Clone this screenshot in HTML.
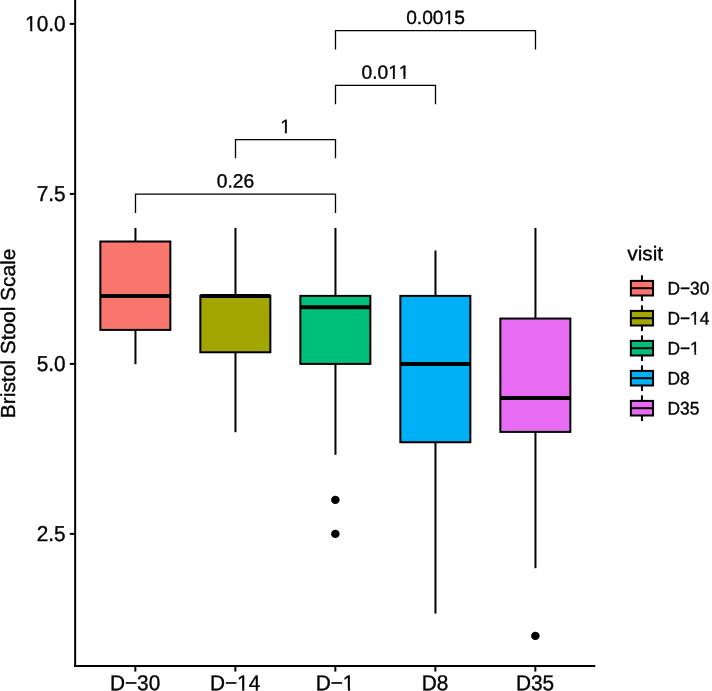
<!DOCTYPE html>
<html>
<head>
<meta charset="utf-8">
<title>Bristol Stool Scale by visit</title>
<style>
html,body{margin:0;padding:0;background:#fff;}
body{width:712px;height:691px;overflow:hidden;}
svg{display:block;will-change:transform;}
text{font-family:"Liberation Sans",sans-serif;fill:#000;stroke:#000;stroke-width:0.35px;text-rendering:geometricPrecision;font-kerning:none;}
.ax{font-size:20.8px;}
.lg{font-size:17.4px;}
.pv{font-size:19.2px;}
.yt{font-size:20.3px;}
.bx{stroke:#000;stroke-width:2;}
.wh{stroke:#000;stroke-width:2;fill:none;}
.md{stroke:#000;stroke-width:4;fill:none;}
.br{stroke:#000;stroke-width:1.3;fill:none;}
</style>
</head>
<body>
<svg width="712" height="691" viewBox="0 0 712 691">
<rect x="0" y="0" width="712" height="691" fill="#fff"/>
<g class="wh">
<line x1="135.47" y1="227.9" x2="135.47" y2="241.5"/>
<line x1="135.47" y1="329.9" x2="135.47" y2="364.2"/>
<line x1="235.47" y1="227.9" x2="235.47" y2="295.9"/>
<line x1="235.47" y1="352.27" x2="235.47" y2="432.2"/>
<line x1="335.47" y1="227.9" x2="335.47" y2="295.9"/>
<line x1="335.47" y1="363.9" x2="335.47" y2="454.84"/>
<line x1="435.47" y1="250.54" x2="435.47" y2="295.9"/>
<line x1="435.47" y1="442.24" x2="435.47" y2="613.56"/>
<line x1="535.47" y1="227.9" x2="535.47" y2="318.54"/>
<line x1="535.47" y1="431.9" x2="535.47" y2="568.2"/>
</g>
<g class="bx">
<rect x="100.35" y="241.5" width="70.0" height="88.4" fill="#F8766D"/>
<rect x="200.35" y="295.9" width="70.0" height="56.37" fill="#A3A500"/>
<rect x="300.35" y="295.9" width="70.0" height="68.0" fill="#00BF7D"/>
<rect x="400.35" y="295.9" width="70.0" height="146.34" fill="#00B0F6"/>
<rect x="500.35" y="318.54" width="70.0" height="113.36" fill="#E76BF3"/>
</g>
<g class="md">
<line x1="100.35" y1="295.9" x2="170.35" y2="295.9"/>
<line x1="200.35" y1="295.9" x2="270.35" y2="295.9"/>
<line x1="300.35" y1="307.26" x2="370.35" y2="307.26"/>
<line x1="400.35" y1="363.9" x2="470.35" y2="363.9"/>
<line x1="500.35" y1="397.9" x2="570.35" y2="397.9"/>
</g>
<ellipse cx="335.35" cy="499.9" rx="4.3" ry="4.15" fill="#000"/>
<ellipse cx="335.35" cy="533.9" rx="4.3" ry="4.15" fill="#000"/>
<ellipse cx="535.35" cy="635.9" rx="4.3" ry="4.15" fill="#000"/>
<g class="br">
<path d="M135.5 212.9 V194.15 H335.5 V212.9"/>
<path d="M235.5 158.3 V139.55 H335.5 V158.3"/>
<path d="M335.5 104.15 V85.4 H435.5 V104.15"/>
<path d="M335.5 49.4 V30.65 H535.5 V49.4"/>
</g>
<text class="pv" text-anchor="middle" transform="translate(235.50000000000003 187.5) rotate(0.03)">0.26</text>
<text class="pv" text-anchor="middle" transform="translate(285.5 132.9) rotate(0.03)">1</text>
<g fill="#fff" transform="translate(285.5 132.9) rotate(0.03)"><rect x="-5.18" y="-2.43" width="4.50" height="3.73"/><rect x="1.36" y="-2.43" width="4.25" height="3.73"/></g>
<text class="pv" text-anchor="middle" transform="translate(385.5 78.75) rotate(0.03)">0.011</text>
<g fill="#fff" transform="translate(385.5 78.75) rotate(0.03)"><rect x="2.83" y="-2.43" width="4.50" height="3.73"/><rect x="9.36" y="-2.43" width="4.25" height="3.73"/><rect x="13.51" y="-2.43" width="4.50" height="3.73"/><rect x="20.04" y="-2.43" width="4.25" height="3.73"/></g>
<text class="pv" text-anchor="middle" transform="translate(435.5 24.0) rotate(0.03)">0.0015</text>
<g fill="#fff" transform="translate(435.5 24.0) rotate(0.03)"><rect x="8.17" y="-2.43" width="4.50" height="3.73"/><rect x="14.70" y="-2.43" width="4.25" height="3.73"/></g>
<line x1="75.15" y1="0" x2="75.15" y2="667" stroke="#000" stroke-width="2"/>
<line x1="74.15" y1="666" x2="595.25" y2="666" stroke="#000" stroke-width="2"/>
<g stroke="#000" stroke-width="2">
<line x1="69.8" y1="23.9" x2="74.5" y2="23.9"/>
<line x1="69.8" y1="193.9" x2="74.5" y2="193.9"/>
<line x1="69.8" y1="363.9" x2="74.5" y2="363.9"/>
<line x1="69.8" y1="533.9" x2="74.5" y2="533.9"/>
<line x1="135.35" y1="666.5" x2="135.35" y2="671.6"/>
<line x1="235.35" y1="666.5" x2="235.35" y2="671.6"/>
<line x1="335.35" y1="666.5" x2="335.35" y2="671.6"/>
<line x1="435.35" y1="666.5" x2="435.35" y2="671.6"/>
<line x1="535.35" y1="666.5" x2="535.35" y2="671.6"/>
</g>
<text class="ax" text-anchor="end" transform="translate(65.6 30.95) rotate(0.03) scale(1.0 1.03)">10.0</text>
<g fill="#fff" transform="translate(65.6 30.95) rotate(0.03) scale(1.0 1.03)"><rect x="-40.20" y="-2.55" width="4.78" height="3.85"/><rect x="-33.24" y="-2.55" width="4.51" height="3.85"/></g>
<text class="ax" text-anchor="end" transform="translate(65.6 200.95) rotate(0.03) scale(1.0 1.03)">7.5</text>
<text class="ax" text-anchor="end" transform="translate(65.6 370.95) rotate(0.03) scale(1.0 1.03)">5.0</text>
<text class="ax" text-anchor="end" transform="translate(65.6 540.95) rotate(0.03) scale(1.0 1.03)">2.5</text>
<text class="ax" text-anchor="middle" transform="translate(135.04999999999998 690.2) rotate(0.03) scale(1.0 1.04)">D−30</text>
<text class="ax" text-anchor="middle" transform="translate(235.04999999999998 690.2) rotate(0.03) scale(1.0 1.04)">D−14</text>
<g fill="#fff" transform="translate(235.04999999999998 690.2) rotate(0.03) scale(1.0 1.04)"><rect x="2.30" y="-2.55" width="4.78" height="3.85"/><rect x="9.25" y="-2.55" width="4.51" height="3.85"/></g>
<text class="ax" text-anchor="middle" transform="translate(335.05 690.2) rotate(0.03) scale(1.0 1.04)">D−1</text>
<g fill="#fff" transform="translate(335.05 690.2) rotate(0.03) scale(1.0 1.04)"><rect x="8.08" y="-2.55" width="4.78" height="3.85"/><rect x="15.04" y="-2.55" width="4.51" height="3.85"/></g>
<text class="ax" text-anchor="middle" transform="translate(435.05 690.2) rotate(0.03) scale(1.0 1.04)">D8</text>
<text class="ax" text-anchor="middle" transform="translate(535.0500000000001 690.2) rotate(0.03) scale(1.0 1.04)">D35</text>
<text class="yt" text-anchor="middle" transform="translate(15.2 333.4) rotate(-90) scale(1.03 1.0)">Bristol Stool Scale</text>
<text class="ax" text-anchor="start" transform="translate(627.3 260.3) rotate(0.03) scale(1.0 0.96)">visit</text>
<line class="wh" x1="641.95" y1="275.35" x2="641.95" y2="301.05"/>
<rect class="bx" x="630.85" y="280.9" width="22.2" height="14.6" fill="#F8766D"/>
<line x1="630.85" y1="288.2" x2="653.05" y2="288.2" stroke="#000" stroke-width="2"/>
<line class="wh" x1="641.95" y1="305.35" x2="641.95" y2="331.05"/>
<rect class="bx" x="630.85" y="310.9" width="22.2" height="14.6" fill="#A3A500"/>
<line x1="630.85" y1="318.2" x2="653.05" y2="318.2" stroke="#000" stroke-width="2"/>
<line class="wh" x1="641.95" y1="335.35" x2="641.95" y2="361.05"/>
<rect class="bx" x="630.85" y="340.9" width="22.2" height="14.6" fill="#00BF7D"/>
<line x1="630.85" y1="348.2" x2="653.05" y2="348.2" stroke="#000" stroke-width="2"/>
<line class="wh" x1="641.95" y1="365.35" x2="641.95" y2="391.05"/>
<rect class="bx" x="630.85" y="370.9" width="22.2" height="14.6" fill="#00B0F6"/>
<line x1="630.85" y1="378.2" x2="653.05" y2="378.2" stroke="#000" stroke-width="2"/>
<line class="wh" x1="641.95" y1="395.35" x2="641.95" y2="421.05"/>
<rect class="bx" x="630.85" y="400.9" width="22.2" height="14.6" fill="#E76BF3"/>
<line x1="630.85" y1="408.2" x2="653.05" y2="408.2" stroke="#000" stroke-width="2"/>
<text class="lg" text-anchor="start" transform="translate(667.4 294.45) rotate(0.03) scale(1.0 1.05)">D−30</text>
<text class="lg" text-anchor="start" transform="translate(667.4 324.45) rotate(0.03) scale(1.0 1.05)">D−14</text>
<g fill="#fff" transform="translate(667.4 324.45) rotate(0.03) scale(1.0 1.05)"><rect x="22.75" y="-2.30" width="4.18" height="3.60"/><rect x="28.81" y="-2.30" width="3.94" height="3.60"/></g>
<text class="lg" text-anchor="start" transform="translate(667.4 354.45) rotate(0.03) scale(1.0 1.05)">D−1</text>
<g fill="#fff" transform="translate(667.4 354.45) rotate(0.03) scale(1.0 1.05)"><rect x="22.75" y="-2.30" width="4.18" height="3.60"/><rect x="28.81" y="-2.30" width="3.94" height="3.60"/></g>
<text class="lg" text-anchor="start" transform="translate(667.4 384.45) rotate(0.03) scale(1.0 1.05)">D8</text>
<text class="lg" text-anchor="start" transform="translate(667.4 414.45) rotate(0.03) scale(1.0 1.05)">D35</text>
</svg>
</body>
</html>
